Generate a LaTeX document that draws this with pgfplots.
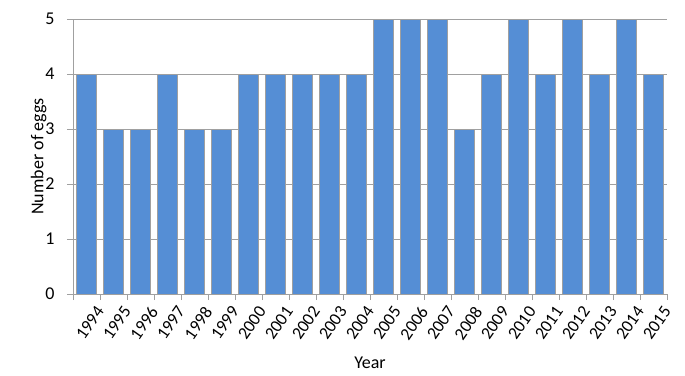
\documentclass[border=0pt]{standalone}
\usepackage{pgfplots}
\pgfplotsset{compat=1.18}
\usepackage{fontspec}
\setmainfont{Carlito}
\definecolor{barblue}{HTML}{558ED5}
\definecolor{gridgray}{HTML}{A0A0A0}
\begin{document}
\begin{tikzpicture}
\useasboundingbox (-73pt,-81pt) rectangle (612pt,294pt);
\begin{axis}[
  at={(0,0)}, anchor=south west,
  scale only axis, width=594pt, height=275pt,
  ybar, bar width=19.5pt,
  xmin=-0.5, xmax=21.5, ymin=0, ymax=5,
  xtick=data,
  xticklabels={1994,1995,1996,1997,1998,1999,2000,2001,2002,2003,2004,2005,2006,2007,2008,2009,2010,2011,2012,2013,2014,2015},
  x tick label style={rotate=55, anchor=north east, inner sep=0pt, xshift=1pt, yshift=-10pt, font=\fontsize{17.5}{19}\selectfont},
  minor xtick={-0.5,0.5,...,21.5},
  ytick={0,1,2,3,4,5},
  ymajorgrids, major grid style={gridgray, line width=0.8pt},
  axis x line*=bottom, axis y line*=left,
  axis line style={gridgray, line width=0.8pt},
  x axis line style={-}, y axis line style={-},
  tick style={gridgray, line width=0.8pt},
  tick align=outside,
  major x tick style={draw=none},
  minor tick length=6pt, major tick length=6pt,
  minor x tick style={gridgray, line width=0.8pt},
  y tick label style={font=\fontsize{18}{20}\selectfont, xshift=-9pt},
  /pgf/number format/assume math mode=true,
  xlabel={Year}, ylabel={Number of eggs},
  label style={font=\fontsize{18}{20}\selectfont},
  xlabel style={yshift=-12pt},
  ylabel style={yshift=-8pt},
  clip=false,
]
\addplot[fill=barblue, draw=gridgray, line width=0.6pt] coordinates {
(0,4) (1,3) (2,3) (3,4) (4,3) (5,3) (6,4) (7,4) (8,4) (9,4) (10,4)
(11,5) (12,5) (13,5) (14,3) (15,4) (16,5) (17,4) (18,5) (19,4) (20,5) (21,4)};
\end{axis}
\end{tikzpicture}
\end{document}
